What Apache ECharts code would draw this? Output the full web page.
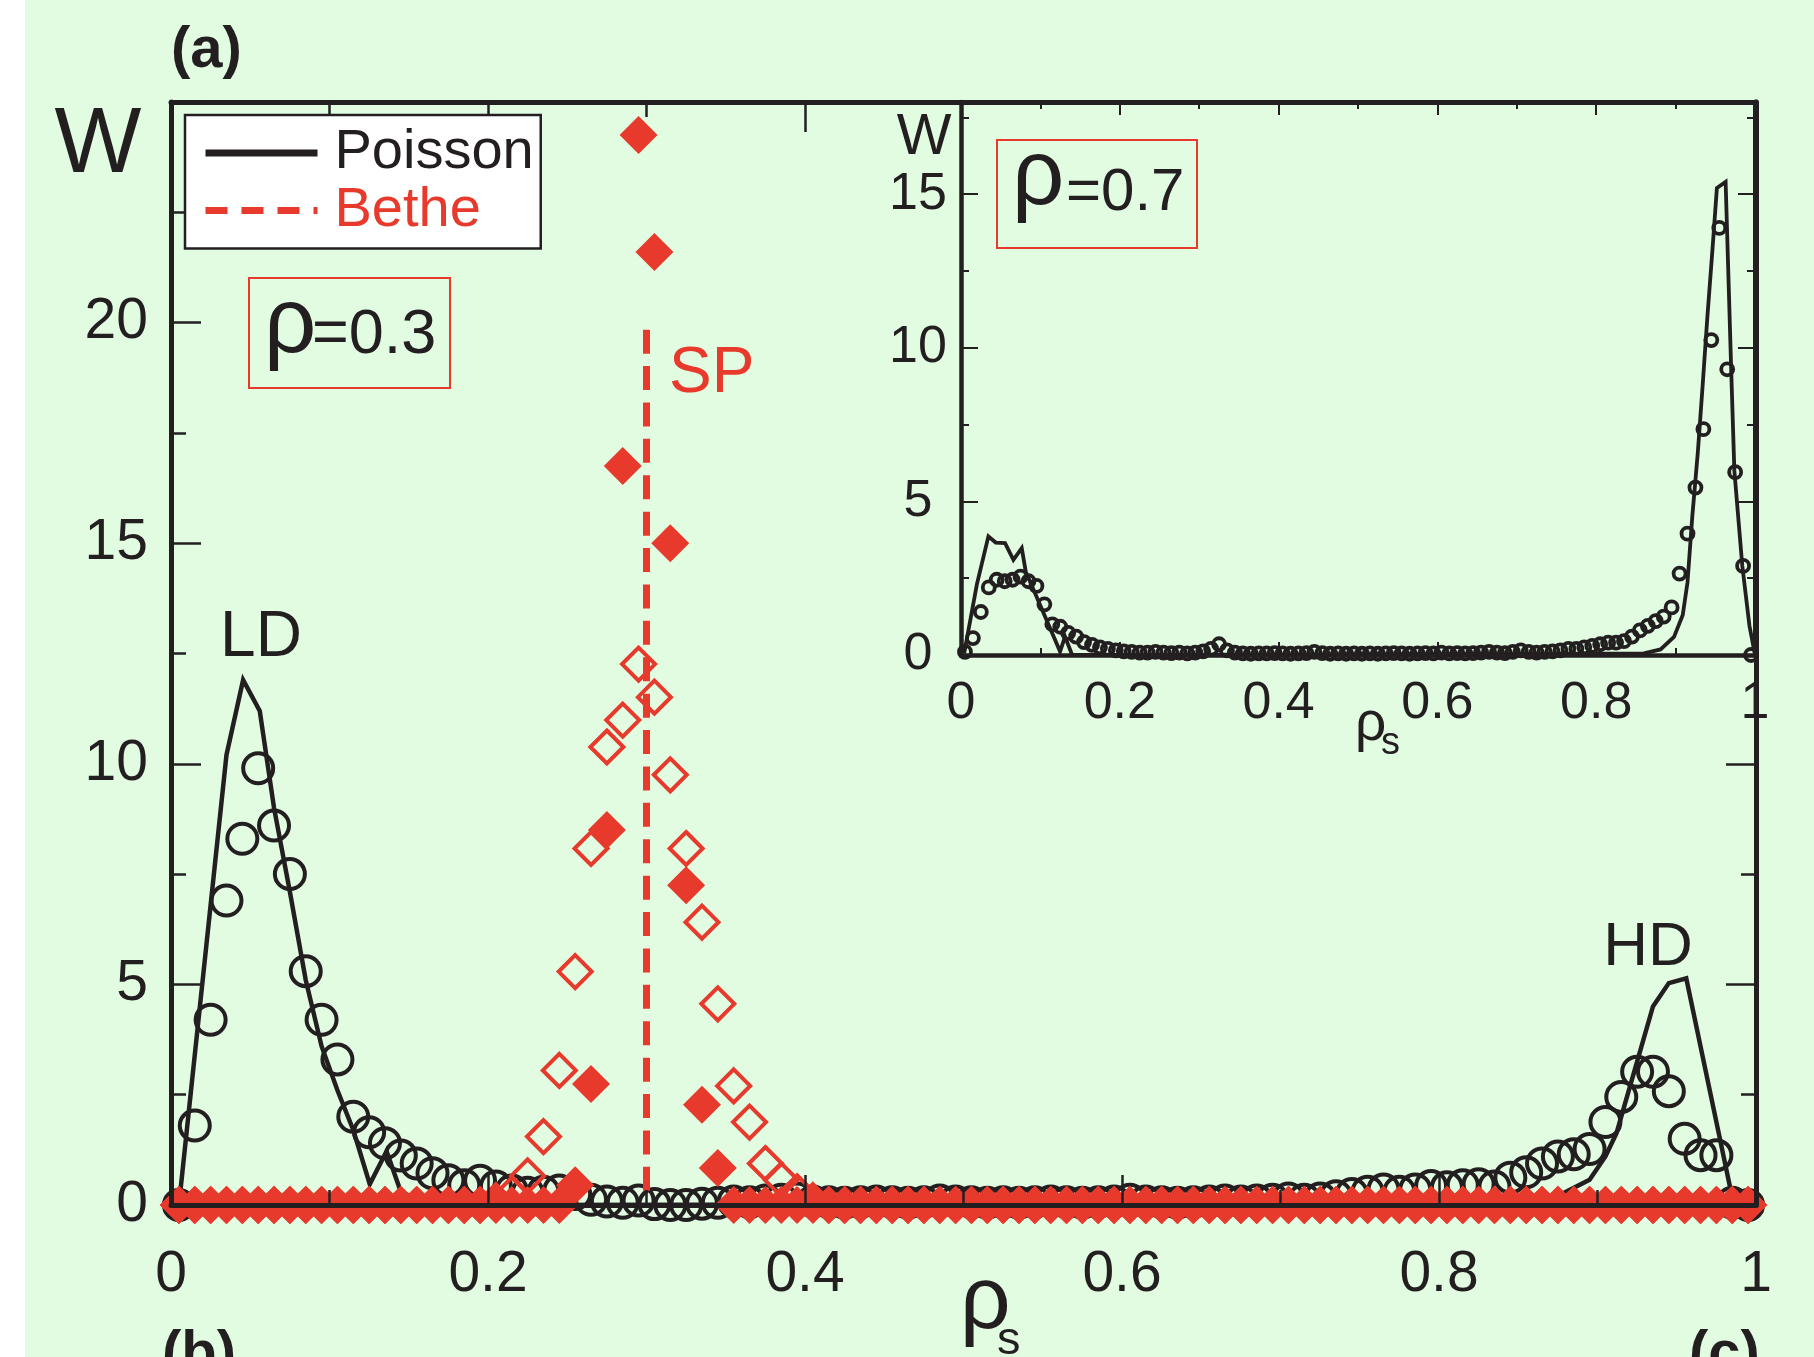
<!DOCTYPE html>
<html>
<head>
<meta charset="utf-8">
<script src="https://cdn.jsdelivr.net/npm/echarts@6/dist/echarts.min.js"></script>
<style>
  html, body { margin: 0; padding: 0; background: #ffffff; }
  #chart { width: 1814px; height: 1357px; }
</style>
</head>
<body>
<div id="chart"></div>
<script>
// Histogram bin centres of rho_s (shared by every marker series)
const BINS = [
  0.005, 0.015, 0.025, 0.035, 0.045, 0.055, 0.065, 0.075, 0.085, 0.095,
  0.105, 0.115, 0.125, 0.135, 0.145, 0.155, 0.165, 0.175, 0.185, 0.195,
  0.205, 0.215, 0.225, 0.235, 0.245, 0.255, 0.265, 0.275, 0.285, 0.295,
  0.305, 0.315, 0.325, 0.335, 0.345, 0.355, 0.365, 0.375, 0.385, 0.395,
  0.405, 0.415, 0.425, 0.435, 0.445, 0.455, 0.465, 0.475, 0.485, 0.495,
  0.505, 0.515, 0.525, 0.535, 0.545, 0.555, 0.565, 0.575, 0.585, 0.595,
  0.605, 0.615, 0.625, 0.635, 0.645, 0.655, 0.665, 0.675, 0.685, 0.695,
  0.705, 0.715, 0.725, 0.735, 0.745, 0.755, 0.765, 0.775, 0.785, 0.795,
  0.805, 0.815, 0.825, 0.835, 0.845, 0.855, 0.865, 0.875, 0.885, 0.895,
  0.905, 0.915, 0.925, 0.935, 0.945, 0.955, 0.965, 0.975, 0.985, 0.995
];

// rho = 0.3 : open circles (Poisson network simulation)
const mainCircleW = [
  0.0, 1.8, 4.2, 6.9, 8.3, 9.9, 8.6, 7.5, 5.3, 4.2,
  3.3, 2.0, 1.65, 1.4, 1.12, 0.94, 0.72, 0.56, 0.45, 0.55,
  0.42, 0.33, 0.28, 0.3, 0.33, 0.25, 0.12, 0.08, 0.05, 0.1,
  0.02, 0.0, 0.0, 0.03, 0.05, 0.08, 0.06, 0.1, 0.12, 0.15,
  0.08, 0.06, 0.05, 0.06, 0.08, 0.06, 0.05, 0.06, 0.1, 0.08,
  0.06, 0.05, 0.06, 0.05, 0.06, 0.08, 0.06, 0.05, 0.06, 0.08,
  0.12, 0.08, 0.06, 0.05, 0.06, 0.08, 0.1, 0.08, 0.1, 0.12,
  0.15, 0.12, 0.15, 0.2, 0.25, 0.3, 0.35, 0.3, 0.35, 0.43,
  0.4, 0.45, 0.47, 0.42, 0.62, 0.74, 0.94, 1.1, 1.15, 1.27,
  1.88, 2.45, 3.02, 3.02, 2.58, 1.5, 1.13, 1.13, 0.05, 0.0
];

// rho = 0.3 : filled diamonds (Bethe lattice simulation)
const mainFilledW = [
  0, 0, 0, 0, 0, 0, 0, 0, 0, 0,
  0, 0, 0, 0, 0, 0, 0, 0, 0, 0,
  0, 0, 0, 0, 0, 0.45, 2.74, 8.5, 16.75, 24.25,
  21.6, 15.0, 7.25, 2.27, 0.84, 0, 0, 0, 0, 0,
  0, 0, 0, 0, 0, 0, 0, 0, 0, 0,
  0, 0, 0, 0, 0, 0, 0, 0, 0, 0,
  0, 0, 0, 0, 0, 0, 0, 0, 0, 0,
  0, 0, 0, 0, 0, 0, 0, 0, 0, 0,
  0, 0, 0, 0, 0, 0, 0, 0, 0, 0,
  0, 0, 0, 0, 0, 0, 0, 0, 0, 0
];

// rho = 0.3 : open diamonds (Bethe lattice simulation, second set)
const mainOpenW = [
  0, 0, 0, 0, 0, 0, 0, 0, 0, 0,
  0, 0, 0, 0, 0, 0, 0, 0, 0, 0,
  0.1, 0.25, 0.66, 1.55, 3.05, 5.29, 8.08, 10.38, 10.99, 12.26,
  11.51, 9.75, 8.08, 6.41, 4.56, 2.7, 1.88, 0.94, 0.57, 0.3,
  0.1, 0, 0, 0, 0, 0, 0, 0, 0, 0,
  0, 0, 0, 0, 0, 0, 0, 0, 0, 0,
  0, 0, 0, 0, 0, 0, 0, 0, 0, 0,
  0, 0, 0, 0, 0, 0, 0, 0, 0, 0,
  0, 0, 0, 0, 0, 0, 0, 0, 0, 0,
  0, 0, 0, 0, 0, 0, 0, 0, 0, 0
];

// rho = 0.3 : Poisson theory curve
const mainPoissonX = [0.005, 0.035, 0.0455, 0.056, 0.065, 0.075, 0.085, 0.095, 0.105, 0.115,
  0.1254, 0.136, 0.145, 0.16, 0.2, 0.855, 0.878, 0.895, 0.905, 0.912,
  0.935, 0.945, 0.956, 0.984, 0.99, 1.0];
const mainPoissonW = [0, 10.2, 11.9, 11.2, 9.0, 7.1, 5.1, 3.6, 2.6, 1.7,
  0.47, 1.22, 0.3, 0.05, 0, 0.03, 0.26, 0.57, 1.1, 1.63,
  4.5, 5.03, 5.14, 0.34, 0, 0];

// rho = 0.3 : Bethe theory, delta peak at the shock position SP
const spX = [0.3, 0.3];
const spW = [19.84, 0];

// rho = 0.7 (inset) : open circles
const insetCircleW = [
  0.1, 0.55, 1.4, 2.2, 2.45, 2.4, 2.45, 2.55, 2.4, 2.25,
  1.65, 1.0, 0.92, 0.72, 0.6, 0.42, 0.33, 0.25, 0.2, 0.15,
  0.12, 0.1, 0.08, 0.08, 0.1, 0.08, 0.06, 0.08, 0.05, 0.08,
  0.12, 0.2, 0.35, 0.15, 0.08, 0.05, 0.04, 0.05, 0.05, 0.06,
  0.05, 0.04, 0.05, 0.06, 0.1, 0.06, 0.04, 0.05, 0.04, 0.05,
  0.04, 0.05, 0.04, 0.05, 0.06, 0.05, 0.04, 0.05, 0.06, 0.05,
  0.08, 0.05, 0.06, 0.05, 0.06, 0.08, 0.1, 0.08, 0.06, 0.1,
  0.15, 0.1, 0.08, 0.1, 0.12, 0.15, 0.2, 0.2, 0.25, 0.3,
  0.35, 0.4, 0.4, 0.45, 0.6, 0.8, 0.95, 1.1, 1.25, 1.55,
  2.65, 3.95, 5.45, 7.35, 10.25, 13.9, 9.3, 5.95, 2.9, 0.0
];

// rho = 0.7 (inset) : Poisson theory curve
const insetPoissonX = [0.004, 0.02, 0.0345, 0.0437, 0.0555, 0.066, 0.0765, 0.0815, 0.1248, 0.131,
  0.14, 0.2, 0.86, 0.881, 0.898, 0.909, 0.915, 0.921, 0.928, 0.934,
  0.94, 0.947, 0.952, 0.963, 0.97, 0.974, 0.984, 0.993, 1.0];
const insetPoissonW = [0.05, 2.3, 3.86, 3.66, 3.64, 3.1, 3.48, 2.72, 0.11, 0.6,
  0, 0, 0.05, 0.18, 0.59, 1.3, 2.37, 4.5, 6.6, 8.75,
  11.0, 13.4, 15.2, 15.4, 9.3, 6.0, 2.9, 0.95, 0];

// inset y ticks
const insetMajorTicks = [0, 5, 10, 15];
const insetMinorTicks = [2.5, 7.5, 12.5, 17.5];

const INK = '#231f20';
const RED = '#e83a2c';
const GREEN = '#e2fce2';
const FONT = '"Liberation Sans", Arial, sans-serif';
const CLEAR = 'rgba(0,0,0,0)';

const toPairs = (xs, ys) => xs.map((x, i) => [x, ys[i]]);

function frameAxis(cfg) {
  const tick = { color: INK, width: cfg.tickWidth };
  return {
    type: 'value',
    gridIndex: cfg.grid,
    position: cfg.position,
    min: 0,
    max: cfg.max,
    interval: cfg.interval,
    z: cfg.z,
    silent: true,
    axisLine: { show: cfg.line !== false, onZero: false, lineStyle: { color: INK, width: cfg.lineWidth } },
    axisTick: Object.assign({ show: true, inside: true, length: cfg.tickLen, lineStyle: tick },
      cfg.tickValues ? { customValues: cfg.tickValues } : {}),
    minorTick: { show: !!cfg.minorLen, splitNumber: 2, length: cfg.minorLen || 0, lineStyle: tick },
    splitLine: { show: false },
    minorSplitLine: { show: false },
    axisLabel: cfg.label ? Object.assign({
      show: true, color: INK, fontFamily: FONT
    }, cfg.label) : { show: false }
  };
}

const chart = echarts.init(document.getElementById('chart'), null, { renderer: 'canvas' });

const option = {
  animation: false,
  backgroundColor: GREEN,
  legend: {
    left: 185,
    top: 115,
    z: 6,
    orient: 'vertical',
    selectedMode: false,
    backgroundColor: '#ffffff',
    borderColor: INK,
    borderWidth: 2.5,
    padding: [10, 7, 10, 17],
    itemWidth: 112,
    itemHeight: 56,
    itemGap: 1.5,
    textStyle: { fontSize: 56, fontFamily: FONT, lineHeight: 56, padding: [0, 0, 0, 12] },
    data: [
      { name: 'Poisson', textStyle: { color: INK },
        itemStyle: { color: CLEAR, opacity: 0, borderWidth: 0 },
        lineStyle: { width: 7, color: INK, type: 'solid', opacity: 1 } },
      { name: 'Bethe', textStyle: { color: RED },
        itemStyle: { color: CLEAR, opacity: 0, borderWidth: 0 },
        lineStyle: { width: 7, color: RED, type: [22, 14], opacity: 1 } }
    ]
  },
  grid: [
    { left: 171, top: 102, width: 1585, height: 1103, show: false },
    { left: 961, top: 102, width: 794, height: 553, show: true, backgroundColor: GREEN, borderWidth: 0, z: 5 },
    { left: 961, top: 102, width: 794, height: 553, show: false, z: 5 }
  ],
  xAxis: [
    frameAxis({ grid: 0, position: 'bottom', max: 1, interval: 0.2, z: 4, lineWidth: 5, tickWidth: 2.5,
      tickLen: 30, minorLen: 15, label: { fontSize: 57, margin: 42 } }),
    frameAxis({ grid: 0, position: 'top', max: 1, interval: 0.2, z: 4, lineWidth: 5, tickWidth: 2.5,
      tickLen: 30, minorLen: 15 }),
    frameAxis({ grid: 1, position: 'bottom', max: 1, interval: 0.2, z: 8, lineWidth: 4.5, tickWidth: 2,
      tickLen: 13, minorLen: 7, label: { fontSize: 52, margin: 23 } }),
    frameAxis({ grid: 1, position: 'top', max: 1, interval: 0.2, z: 8, lineWidth: 5, tickWidth: 2,
      tickLen: 13, minorLen: 7 }),
    { type: 'value', gridIndex: 2, min: 0, max: 1, show: false }
  ],
  yAxis: [
    frameAxis({ grid: 0, position: 'left', max: 25, interval: 5, z: 4, lineWidth: 5, tickWidth: 2.5,
      tickLen: 30, minorLen: 15, label: { fontSize: 57, margin: 23, showMaxLabel: false } }),
    frameAxis({ grid: 0, position: 'right', max: 25, interval: 5, z: 4, lineWidth: 5, tickWidth: 2.5,
      tickLen: 30, minorLen: 15 }),
    frameAxis({ grid: 1, position: 'left', max: 18, interval: 5, z: 8, lineWidth: 4.5, tickWidth: 2,
      tickLen: 17, tickValues: insetMajorTicks,
      label: { fontSize: 52, margin: 43, align: 'center', customValues: insetMajorTicks } }),
    frameAxis({ grid: 1, position: 'right', max: 18, interval: 5, z: 8, lineWidth: 5, tickWidth: 2,
      tickLen: 17, tickValues: insetMajorTicks }),
    frameAxis({ grid: 2, position: 'left', max: 18, interval: 5, z: 8, line: false, lineWidth: 0, tickWidth: 2,
      tickLen: 8, tickValues: insetMinorTicks }),
    frameAxis({ grid: 2, position: 'right', max: 18, interval: 5, z: 8, line: false, lineWidth: 0, tickWidth: 2,
      tickLen: 8, tickValues: insetMinorTicks })
  ],
  series: [
    {
      name: 'sim-circles', type: 'scatter', xAxisIndex: 0, yAxisIndex: 0, z: 2, silent: true,
      data: toPairs(BINS, mainCircleW),
      symbol: 'circle', symbolSize: 30,
      itemStyle: { color: CLEAR, borderColor: INK, borderWidth: 4, opacity: 1 }
    },
    {
      name: 'sim-filled', type: 'scatter', xAxisIndex: 0, yAxisIndex: 0, z: 3, silent: true,
      data: toPairs(BINS, mainFilledW),
      symbol: 'diamond', symbolSize: 38,
      itemStyle: { color: RED, opacity: 1 }
    },
    {
      name: 'sim-open', type: 'scatter', xAxisIndex: 0, yAxisIndex: 0, z: 3, silent: true,
      data: toPairs(BINS, mainOpenW),
      symbol: 'diamond', symbolSize: 33,
      itemStyle: { color: CLEAR, borderColor: RED, borderWidth: 4, opacity: 1 }
    },
    {
      name: 'Poisson', type: 'line', xAxisIndex: 0, yAxisIndex: 0, z: 3, silent: true,
      data: toPairs(mainPoissonX, mainPoissonW),
      symbol: 'none', color: INK,
      lineStyle: { color: INK, width: 4.5, join: 'miter' }
    },
    {
      name: 'Bethe', type: 'line', xAxisIndex: 0, yAxisIndex: 0, z: 3, silent: true,
      data: toPairs(spX, spW),
      symbol: 'none', color: RED,
      lineStyle: { color: RED, width: 7, type: [24, 12.4] }
    },
    {
      name: 'inset-circles', type: 'scatter', xAxisIndex: 2, yAxisIndex: 2, z: 6, silent: true,
      data: toPairs(BINS, insetCircleW),
      symbol: 'circle', symbolSize: 12,
      itemStyle: { color: CLEAR, borderColor: INK, borderWidth: 3.8, opacity: 1 }
    },
    {
      name: 'Poisson', type: 'line', xAxisIndex: 2, yAxisIndex: 2, z: 7, silent: true,
      data: toPairs(insetPoissonX, insetPoissonW),
      symbol: 'none', color: INK,
      lineStyle: { color: INK, width: 3.8, join: 'miter' }
    }
  ],
  graphic: {
    elements: [
      { type: 'rect', z: 0, silent: true, shape: { x: 0, y: 0, width: 25, height: 1357 }, style: { fill: '#ffffff' } },
      // panel tags
      { type: 'text', z: 20, style: { text: '(a)', x: 171, y: 51, font: 'bold 58px ' + FONT, fill: INK, align: 'left', verticalAlign: 'middle' } },
      { type: 'text', z: 20, style: { text: '(b)', x: 162, y: 1355, font: 'bold 58px ' + FONT, fill: INK, align: 'left', verticalAlign: 'middle' } },
      { type: 'text', z: 20, style: { text: '(c)', x: 1689, y: 1355, font: 'bold 58px ' + FONT, fill: INK, align: 'left', verticalAlign: 'middle' } },
      // axis titles
      { type: 'text', z: 20, style: { text: 'W', x: 98, y: 147, font: '92px ' + FONT, fill: INK, align: 'center', verticalAlign: 'middle' } },
      { type: 'text', z: 20, style: { text: 'ρ', x: 960, y: 1304, font: '89px ' + FONT, fill: INK, align: 'left', verticalAlign: 'middle' } },
      { type: 'text', z: 20, style: { text: 's', x: 997, y: 1341, font: '47px ' + FONT, fill: INK, align: 'left', verticalAlign: 'middle' } },
      { type: 'text', z: 20, style: { text: 'W', x: 924, y: 138, font: '58px ' + FONT, fill: INK, align: 'center', verticalAlign: 'middle' } },
      { type: 'text', z: 20, style: { text: 'ρ', x: 1355, y: 725, font: '55px ' + FONT, fill: INK, align: 'left', verticalAlign: 'middle' } },
      { type: 'text', z: 20, style: { text: 's', x: 1381, y: 744, font: '38px ' + FONT, fill: INK, align: 'left', verticalAlign: 'middle' } },
      // peak labels
      { type: 'text', z: 20, style: { text: 'LD', x: 261, y: 638, font: '64px ' + FONT, fill: INK, align: 'center', verticalAlign: 'middle' } },
      { type: 'text', z: 20, style: { text: 'HD', x: 1648, y: 948, font: '62px ' + FONT, fill: INK, align: 'center', verticalAlign: 'middle' } },
      { type: 'text', z: 20, style: { text: 'SP', x: 669, y: 374, font: '64px ' + FONT, fill: RED, align: 'left', verticalAlign: 'middle' } },
      // density boxes
      { type: 'rect', z: 20, silent: true, shape: { x: 249, y: 278, width: 201, height: 110 }, style: { fill: 'none', stroke: RED, lineWidth: 2 } },
      { type: 'text', z: 20, style: { text: 'ρ', x: 264, y: 327, font: '92px ' + FONT, fill: INK, align: 'left', verticalAlign: 'middle' } },
      { type: 'text', z: 20, style: { text: '=0.3', x: 312, y: 336, font: '63px ' + FONT, fill: INK, align: 'left', verticalAlign: 'middle' } },
      { type: 'rect', z: 20, silent: true, shape: { x: 997, y: 140, width: 200, height: 108 }, style: { fill: 'none', stroke: RED, lineWidth: 2 } },
      { type: 'text', z: 20, style: { text: 'ρ', x: 1012, y: 179, font: '92px ' + FONT, fill: INK, align: 'left', verticalAlign: 'middle' } },
      { type: 'text', z: 20, style: { text: '=0.7', x: 1066, y: 193, font: '60px ' + FONT, fill: INK, align: 'left', verticalAlign: 'middle' } }
    ]
  }
};

chart.setOption(option);
</script>
</body>
</html>
